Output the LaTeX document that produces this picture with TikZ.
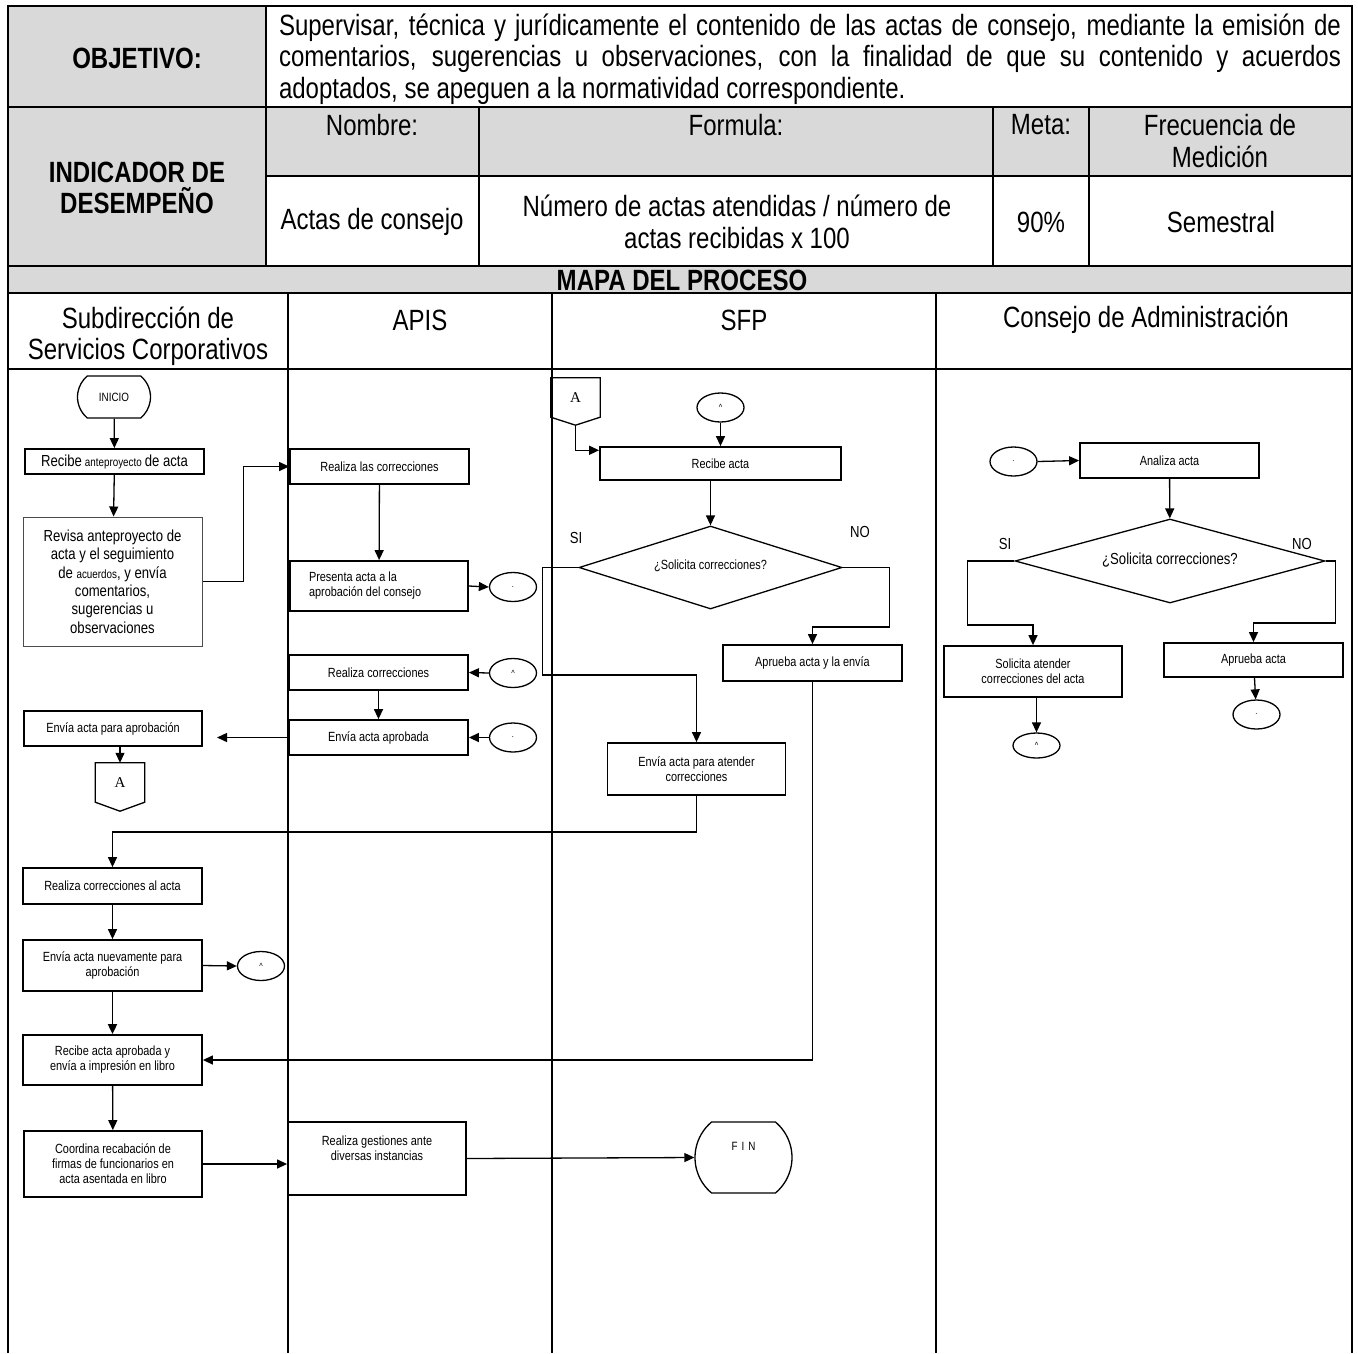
\documentclass[tikz,border=0pt]{standalone}
\usepackage{fontspec}
\setmainfont{Liberation Sans}[FakeStretch=0.82]
\newfontfamily\letraA{Liberation Serif}
\usetikzlibrary{calc,arrows.meta,shapes.geometric,shapes.misc}
\definecolor{gristab}{RGB}{217,217,217}
\newcommand\fchica{\fontsize{13.3}{15}\selectfont}
\newcommand\fmedia{\fontsize{16}{18.4}\selectfont}
\newcommand\fgrande{\fontsize{29.3}{31.5}\selectfont}
\newcommand\fmini{\fontsize{12}{14}\selectfont}
\tikzset{
 borde/.style={line width=1.8pt},
 celda/.style={inner sep=0pt, align=center, font=\fgrande},
 caja/.style={draw, line width=1.8pt, inner sep=1pt, align=center, font=\fchica},
 conec/.style={draw, ellipse, line width=1.3pt, minimum width=47pt, minimum height=29pt, inner sep=0pt, font=\fontsize{9}{9}\selectfont},
 term/.style={draw, rounded rectangle, rounded rectangle arc length=100, line width=1.3pt, inner sep=0pt, align=center, font=\fmini},
 decis/.style={draw, diamond, line width=1.3pt, inner sep=0pt, font=\fchica},
 pagina/.style={inner sep=0pt, minimum width=49pt, font=\letraA\fontsize{15}{15}\selectfont},
 flecha/.style={-{Triangle[length=10pt,width=9pt]}, line width=1.3pt},
 linea/.style={line width=1.3pt},
 etiq/.style={font=\fontsize{16}{16}\selectfont, inner sep=0pt},
}

\begin{document}
\begin{tikzpicture}[x=1pt,y=-1pt]
\useasboundingbox (0,0) rectangle (1358,1353);
\fill[gristab] (8,6) rectangle (266,266);
\fill[gristab] (266,107) rectangle (1352,176);
\fill[gristab] (8,266) rectangle (1352,293);
\draw[borde] (8,1353) -- (8,6) -- (1352,6) -- (1352,1353);
\draw[borde] (266,6) -- (266,266);
\draw[borde] (8,107) -- (1352,107);
\draw[borde] (266,176) -- (1352,176);
\foreach \x in {479,993,1089} \draw[borde] (\x,107) -- (\x,266);
\foreach \y in {266,293,369} \draw[borde] (8,\y) -- (1352,\y);
\foreach \x in {288,552,936} \draw[borde] (\x,293) -- (\x,1353);

\node[celda, font=\fgrande\bfseries] (obj) at (137,58) {OBJETIVO:};
\node[celda, align=justify, text width=1062pt] (objtxt) at (810,59) {\hyphenpenalty=10000 Supervisar, técnica y jurídicamente el contenido de las actas de consejo, mediante la emisión de\linebreak comentarios, sugerencias u observaciones, con la finalidad de que su contenido y acuerdos\linebreak adoptados, se apeguen a la normatividad correspondiente.};
\node[celda] (nom) at (372,125) {Nombre:};
\node[celda] (form) at (736,125) {Formula:};
\node[celda] (meta) at (1041,125) {Meta:};
\node[celda] (frec) at (1220,141) {Frecuencia de\\Medición};
\node[celda, font=\fgrande\bfseries] (ind) at (137,188) {INDICADOR DE\\DESEMPEÑO};
\node[celda] (nomv) at (372,222) {Actas de consejo};
\node[celda] (formv) at (737,222) {Número de actas atendidas / número de\\actas recibidas x 100};
\node[celda] (metav) at (1041,222) {90\%};
\node[celda] (frecv) at (1221,222) {Semestral};
\node[celda, font=\fgrande\bfseries] (mapa) at (682,280.5) {MAPA DEL PROCESO};
\node[celda] (carril1) at (148,336) {Subdirección de\\Servicios Corporativos};
\node[celda] (carril2) at (420,320) {APIS};
\node[celda] (carril3) at (744,320) {SFP};
\node[celda] (carril4) at (1146,320) {Consejo de Administración};

\node[term, minimum width=73pt, minimum height=42pt] (inicio) at (114,397) {INICIO};
\node[caja, minimum width=179pt, minimum height=25pt] (b1) at (114.5,461.5) {{\fmedia Recibe} {\fmini anteproyecto} {\fmedia de acta}};
\node[caja, draw=black!70, line width=1pt, minimum width=179pt, minimum height=129pt, font=\fmedia] (b2) at (112.5,581.5) {Revisa anteproyecto de\\acta y el seguimiento\\de {\fmini acuerdos}, y envía\\comentarios,\\sugerencias u\\observaciones};
\node[caja, minimum width=178pt, minimum height=35pt] (b3) at (113,728.5) {Envía acta para aprobación};
\node[pagina, minimum height=39pt] (A1) at (120,782.5) {A};
\draw[linea] (A1.north west) -- (A1.north east) -- (A1.south east) -- ($(A1.south)+(0,9)$) -- (A1.south west) -- cycle;
\node[caja, minimum width=179pt, minimum height=36pt] (b4) at (112.5,886) {Realiza correcciones al acta};
\node[caja, minimum width=179pt, minimum height=51pt] (b5) at (112.5,965.5) {Envía acta nuevamente para\\aprobación};
\node[conec] (c5) at (261,966) {\textasciicircum};
\node[caja, minimum width=179pt, minimum height=50pt] (b6) at (112.5,1060) {Recibe acta aprobada y\\envía a impresión en libro};
\node[caja, minimum width=178pt, minimum height=66pt] (b7) at (113,1164) {Coordina recabación de\\firmas de funcionarios en\\acta asentada en libro};

\node[caja, minimum width=179pt, minimum height=35pt] (p1) at (379.5,466.5) {Realiza las correcciones};
\node[caja, minimum width=178pt, minimum height=50pt, align=flush left, text width=140pt] (p2) at (379,586) {Presenta acta a la\\aprobación del consejo};
\node[conec] (c1) at (513,587) {.};
\node[caja, minimum width=179pt, minimum height=35pt] (p3) at (378.5,672.5) {Realiza correcciones};
\node[conec] (c2) at (513,673) {\textasciicircum};
\node[caja, minimum width=179pt, minimum height=35pt] (p4) at (378.5,737.5) {Envía acta aprobada};
\node[conec] (c3) at (513,737.5) {.};
\coordinate (e1) at (217,737.5);
\node[caja, minimum width=178pt, minimum height=73pt] (p5) at (377,1158.5) {Realiza gestiones ante\\diversas instancias\\[6pt]\mbox{}};

\node[pagina, minimum height=39pt] (A2) at (575.5,397.5) {A};
\draw[linea] (A2.north west) -- (A2.north east) -- (A2.south east) -- ($(A2.south)+(0,8)$) -- (A2.south west) -- cycle;
\coordinate (A2p) at ($(A2.south)+(0,8)$);
\node[conec] (c4) at (720.5,407.5) {\textasciicircum};
\node[caja, minimum width=241pt, minimum height=33pt] (s1) at (720.5,463.5) {\raisebox{-3pt}{Recibe acta}};
\node[decis, aspect=3.17, minimum width=263pt, minimum height=83pt] (d1) at (710.5,567.5) {\raisebox{5pt}{¿Solicita correcciones?}};
\node[etiq] (si1) at (576,538) {SI};
\node[etiq] (no1) at (860,532) {NO};
\node[caja, minimum width=179pt, minimum height=36pt] (s2) at (812.5,663) {Aprueba acta y la envía};
\node[caja, minimum width=178pt, minimum height=52pt] (s3) at (696.5,769) {Envía acta para atender\\correcciones};
\node[term, minimum width=97pt, minimum height=71pt] (fin) at (743.5,1157.5) {F\hspace{4pt}I\hspace{4pt}N\\[8pt]\mbox{}};

\node[conec] (c6) at (1013.5,461.5) {.};
\node[caja, minimum width=179pt, minimum height=35pt] (k1) at (1169.5,460.5) {Analiza acta};
\node[decis, aspect=3.7, minimum width=310pt, minimum height=84pt, font=\fmedia] (d2) at (1170,561) {\raisebox{4pt}{¿Solicita correcciones?}};
\node[etiq] (si2) at (1005,544) {SI};
\node[etiq] (no2) at (1302,544) {NO};
\node[caja, minimum width=178pt, minimum height=51pt] (k2) at (1033,671.5) {Solicita atender\\correcciones del acta};
\node[caja, minimum width=179pt, minimum height=34pt] (k3) at (1253.5,660) {Aprueba acta};
\node[conec, minimum height=25pt] (c7) at (1036.5,745.5) {\textasciicircum};
\node[conec] (c8) at (1256.5,714.5) {.};

\draw[flecha] (inicio) -- (b1);
\draw[flecha] (b1) -- (b2);
\draw[flecha] (b2.east) -- ++(41,0) |- (p1.west);
\draw[flecha] (p1) -- (p2);
\draw[flecha] (p2.east) -- (c1.west);
\draw[flecha] (c2.west) -- (p3.east);
\draw[flecha] (p3) -- (p4);
\draw[flecha] (c3.west) -- (p4.east);
\draw[flecha] (p4.west) -- (e1);
\draw[flecha] (A1.north |- b3.south) -- (A1.north);
\draw[flecha] (A2p) |- ($(s1.north west)!0.12!(s1.south west)$);
\draw[flecha] (c4) -- (s1);
\draw[flecha] (d1.north |- s1.south) -- (d1.north);
\draw[flecha] (d1.west) -- ++(-36,0) -- ++(0,107.5) -| (s3.north);
\draw[flecha] (d1.east) -- ++(47,0) -- ++(0,59.5) -| (s2.north);
\draw[flecha] (s2.south) |- (b6.east);
\draw[flecha] (s3.south) -- ++(0,36) -| (b4.north);
\draw[flecha] (b4) -- (b5);
\draw[flecha] (b5.east) -- (c5.west);
\draw[flecha, line width=1.8pt] (b5) -- (b6);
\draw[flecha] (b6) -- (b7);
\draw[flecha] (b7.east) -- (b7.east -| p5.west);
\draw[flecha] (p5.east) -- (fin.west);
\draw[flecha] (c6.east) -- (k1.west);
\draw[flecha] (k1) -- (d2);
\draw[flecha] (d2.west) -- ++(-47,0) -- ++(0,64) -| (k2.north);
\draw[flecha] (d2.east) -- ++(10,0) -- ++(0,62) -| (k3.north);
\draw[flecha] (c7.north |- k2.south) -- (c7.north);
\draw[flecha] (k3) -- (c8);
\end{tikzpicture}
\end{document}
